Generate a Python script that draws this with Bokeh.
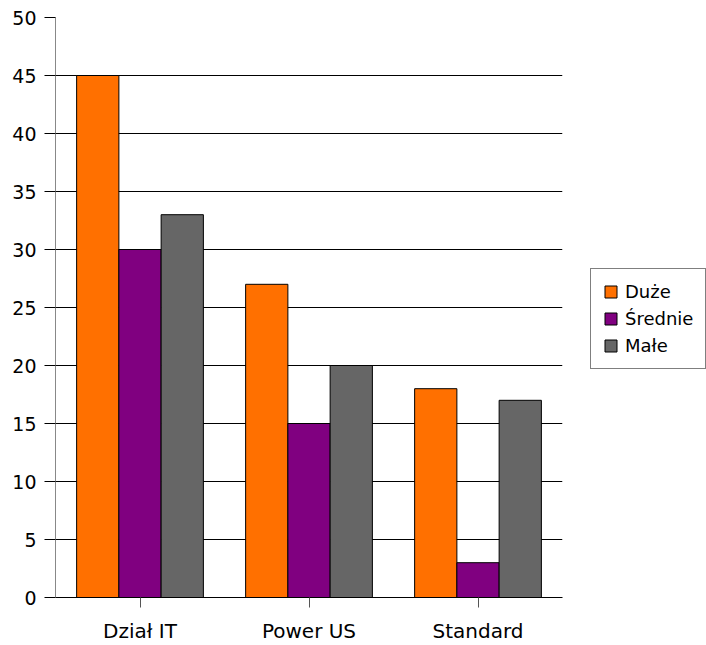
from bokeh.plotting import figure
from bokeh.models import ColumnDataSource, FactorRange, Range1d, Legend, LegendItem, FixedTicker
from bokeh.transform import dodge
from bokeh.layouts import row
from bokeh.embed import file_html
from bokeh.resources import INLINE

categories = ["Dział IT", "Power US", "Standard"]
series = ["Duże", "Średnie", "Małe"]
duze = [45, 27, 18]
srednie = [30, 15, 3]
male = [33, 20, 17]
colors = ["#ff7000", "#800080", "#666666"]
y_ticks = [0, 5, 10, 15, 20, 25, 30, 35, 40, 45, 50]

src = ColumnDataSource(dict(cat=categories, duze=duze, srednie=srednie, male=male))

W, H = 706, 645
W1 = 575
p = figure(width=W1, height=H, output_backend="svg", toolbar_location=None,
           x_range=FactorRange(*categories, range_padding=0), y_range=Range1d(0, 50),
           min_border_left=55, min_border_top=17, min_border_bottom=H - 599,
           min_border_right=W1 - 562)
p.outline_line_color = None
p.background_fill_color = "white"

for col, off, c in zip(["duze", "srednie", "male"], [-0.25, 0.0, 0.25], colors):
    p.vbar(x=dodge("cat", off, range=p.x_range), top=col, width=0.25, source=src,
           fill_color=c, line_color="black", line_width=1)

p.xgrid.grid_line_color = None
p.ygrid.grid_line_color = "black"
p.ygrid.grid_line_width = 1
p.yaxis.ticker = FixedTicker(ticks=y_ticks)
p.yaxis.axis_line_color = "#888888"
p.yaxis.major_tick_line_color = "black"
p.yaxis.major_tick_out = 11
p.yaxis.major_tick_in = 0
p.yaxis.minor_tick_line_color = None
p.yaxis.major_label_standoff = 8
p.yaxis.major_label_text_font = "DejaVu Sans"
p.yaxis.major_label_text_font_size = "19px"
p.yaxis.major_label_text_color = "black"

p.xaxis.axis_line_color = "black"
p.xaxis.major_tick_line_color = "#555555"
p.xaxis.major_tick_out = 10
p.xaxis.major_tick_in = 0
p.xaxis.major_label_standoff = 11
p.xaxis.major_label_text_font = "DejaVu Sans"
p.xaxis.major_label_text_font_size = "20px"
p.xaxis.major_label_text_color = "black"

# legend panel
lg = figure(width=W - W1, height=H, output_backend="svg", toolbar_location=None,
            x_range=Range1d(0, 1), y_range=Range1d(0, 1),
            x_axis_location=None, y_axis_location=None,
            min_border=0, min_border_left=0, min_border_right=0,
            min_border_top=0, min_border_bottom=0)
lg.grid.visible = False
lg.outline_line_color = None
offscreen = ColumnDataSource(dict(x=[5], top=[5]))
items = []
for s, c in zip(series, colors):
    r = lg.vbar(x="x", top="top", width=0.1, source=offscreen, fill_color=c, line_color="black")
    items.append(LegendItem(label=s, renderers=[r]))

legend = Legend(items=items, location=(15, 228), orientation="vertical",
                border_line_color="black", border_line_width=1,
                label_text_font="DejaVu Sans", label_text_font_size="18px",
                label_text_color="black",
                glyph_width=15, glyph_height=15, label_standoff=7,
                padding=12, spacing=6, margin=0, label_height=21)
lg.add_layout(legend, "center")

open("out.html", "w").write(file_html(row(p, lg), INLINE))
